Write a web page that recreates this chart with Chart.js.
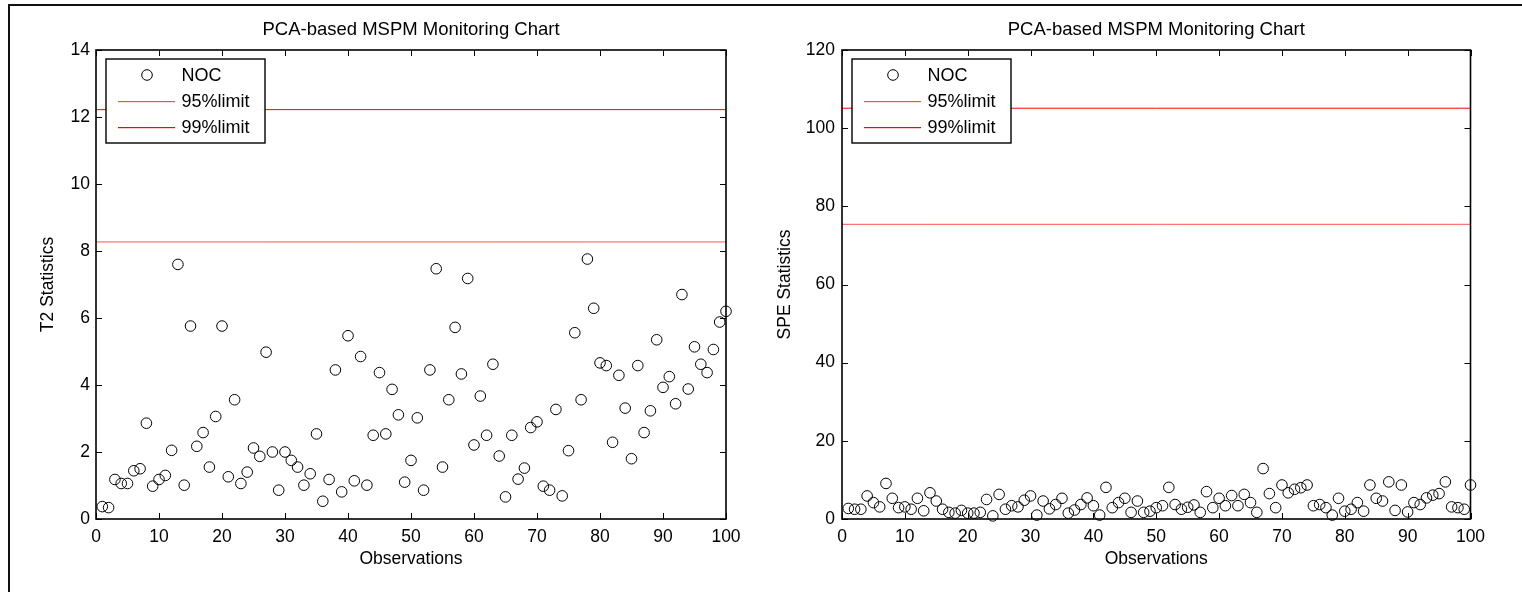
<!DOCTYPE html>
<html>
<head>
<meta charset="utf-8">
<title>PCA-based MSPM Monitoring Chart</title>
<script src="https://cdn.jsdelivr.net/npm/chart.js@4.4.1/dist/chart.umd.min.js"></script>
<style>
  html, body { margin: 0; padding: 0; background: #fff; }
  body { position: relative; width: 1522px; height: 592px; overflow: hidden; }
  #frame { position: absolute; left: 8px; top: 4px; width: 1530px; height: 600px;
           border-top: 2px solid #111; border-left: 2px solid #111; }
  canvas { position: absolute; top: 0; }
  #t2Chart { left: 0; }
  #speChart { left: 761px; }
</style>
</head>
<body>
<div id="frame"></div>
<canvas id="t2Chart" width="761" height="592"></canvas>
<canvas id="speChart" width="761" height="592"></canvas>

<script>
// ── Data ─────────────────────────────────────────────────
const chartTitle = 'PCA-based MSPM Monitoring Chart';
const legendLabels = ['NOC', '95%limit', '99%limit'];

const observations = [
    1, 2, 3, 4, 5, 6, 7, 8, 9, 10, 11, 12, 13, 14, 15, 16, 17, 18, 19, 20,
    21, 22, 23, 24, 25, 26, 27, 28, 29, 30, 31, 32, 33, 34, 35, 36, 37, 38, 39, 40,
    41, 42, 43, 44, 45, 46, 47, 48, 49, 50, 51, 52, 53, 54, 55, 56, 57, 58, 59, 60,
    61, 62, 63, 64, 65, 66, 67, 68, 69, 70, 71, 72, 73, 74, 75, 76, 77, 78, 79, 80,
    81, 82, 83, 84, 85, 86, 87, 88, 89, 90, 91, 92, 93, 94, 95, 96, 97, 98, 99, 100
];

const t2Values = [
    0.37, 0.34, 1.18, 1.06, 1.06, 1.44, 1.50, 2.86, 0.98, 1.18,
    1.30, 2.05, 7.60, 1.01, 5.76, 2.17, 2.58, 1.55, 3.06, 5.76,
    1.26, 3.56, 1.06, 1.40, 2.12, 1.87, 4.98, 2.00, 0.86, 2.00,
    1.75, 1.55, 1.01, 1.35, 2.54, 0.53, 1.18, 4.45, 0.81, 5.47,
    1.14, 4.85, 1.01, 2.50, 4.37, 2.54, 3.87, 3.11, 1.10, 1.75,
    3.02, 0.86, 4.45, 7.47, 1.55, 3.56, 5.72, 4.33, 7.18, 2.21,
    3.67, 2.50, 4.62, 1.88, 0.66, 2.50, 1.19, 1.52, 2.73, 2.90,
    0.98, 0.86, 3.27, 0.69, 2.04, 5.56, 3.56, 7.76, 6.29, 4.66,
    4.58, 2.29, 4.29, 3.31, 1.80, 4.58, 2.58, 3.23, 5.35, 3.93,
    4.25, 3.44, 6.70, 3.88, 5.14, 4.62, 4.37, 5.06, 5.88, 6.20
];

const speValues = [
    2.7, 2.5, 2.5, 5.9, 4.2, 3.1, 9.1, 5.3, 2.9, 3.1,
    2.5, 5.3, 2.1, 6.7, 4.6, 2.5, 1.7, 1.5, 2.2, 1.5,
    1.5, 1.7, 5.0, 0.8, 6.3, 2.5, 3.4, 3.1, 4.8, 5.9,
    1.0, 4.6, 2.6, 3.7, 5.3, 1.5, 2.3, 3.7, 5.4, 3.4,
    1.0, 8.1, 2.9, 4.2, 5.3, 1.7, 4.6, 1.7, 2.0, 2.9,
    3.4, 8.1, 3.7, 2.5, 3.0, 3.6, 1.7, 7.0, 2.9, 5.3,
    3.4, 6.0, 3.4, 6.3, 4.2, 1.7, 12.9, 6.5, 2.9, 8.7,
    6.7, 7.6, 8.0, 8.7, 3.4, 3.7, 2.9, 1.0, 5.3, 2.0,
    2.5, 4.2, 2.0, 8.7, 5.3, 4.6, 9.5, 2.2, 8.7, 1.8,
    4.2, 3.7, 5.4, 6.1, 6.5, 9.5, 3.1, 2.9, 2.5, 8.7
];

const t2Limits  = [8.27, 12.22];   // 95%, 99%
const speLimits = [75.4, 105.1];   // 95%, 99%

const xTicks = { min: 0, max: 100, step: 10 };
const t2Axis  = { min: 0, max: 14,  step: 2,  title: 'T2 Statistics' };
const speAxis = { min: 0, max: 120, step: 20, title: 'SPE Statistics' };

// ── Styling ──────────────────────────────────────────────
const FONT = '"Liberation Sans", Arial, Helvetica, sans-serif';
const TEXT = 17.5;
const limitColors = ['#ff5050', '#ff0000'];

// ── MATLAB-like axes box, inward ticks, boxed legend ─────
const matlabAxes = {
    id: 'matlabAxes',
    afterDatasetsDraw(chart) {
        const { ctx, chartArea: a, scales: { x, y } } = chart;
        ctx.save();
        ctx.strokeStyle = '#000';
        ctx.lineWidth = 1;
        ctx.beginPath();
        x.ticks.forEach(t => {
            const px = Math.round(x.getPixelForValue(t.value)) + 0.5;
            ctx.moveTo(px, a.bottom); ctx.lineTo(px, a.bottom - 6);
            ctx.moveTo(px, a.top);    ctx.lineTo(px, a.top + 6);
        });
        y.ticks.forEach(t => {
            const py = Math.round(y.getPixelForValue(t.value)) + 0.5;
            ctx.moveTo(a.left, py);  ctx.lineTo(a.left + 6, py);
            ctx.moveTo(a.right, py); ctx.lineTo(a.right - 6, py);
        });
        ctx.stroke();
        ctx.lineWidth = 1.6;
        ctx.strokeRect(a.left, a.top, a.width, a.height);
        ctx.restore();
    },
    afterDraw(chart) {
        const { ctx, chartArea: a } = chart;
        const bx = Math.round(a.left + 10), by = Math.round(a.top + 9), bw = 159, bh = 84;
        ctx.save();
        ctx.fillStyle = '#fff';
        ctx.fillRect(bx, by, bw, bh);
        ctx.strokeStyle = '#000';
        ctx.lineWidth = 1.4;
        ctx.strokeRect(bx, by, bw, bh);
        legendLabels.forEach((label, i) => {
            const ry = Math.round(by + 15.5 + i * 26.2);
            if (i === 0) {
                ctx.beginPath();
                ctx.lineWidth = 1;
                ctx.strokeStyle = '#000';
                ctx.arc(bx + 41, ry, 5.3, 0, Math.PI * 2);
                ctx.stroke();
            } else {
                ctx.fillStyle = limitColors[i - 1];
                ctx.fillRect(bx + 12, ry, 57, 1.2);
            }
            ctx.fillStyle = '#000';
            ctx.font = `18px ${FONT}`;
            ctx.textBaseline = 'middle';
            ctx.textAlign = 'left';
            ctx.fillText(label, bx + 75.5, ry + 1.5);
        });
        ctx.restore();
    }
};

function buildChart(canvasId, values, limits, axis, pad) {
    const points = observations.map((o, i) => ({ x: o, y: values[i] }));
    const limitLine = v => [{ x: xTicks.min, y: v }, { x: xTicks.max, y: v }];

    return new Chart(document.getElementById(canvasId), {
        type: 'scatter',
        data: {
            datasets: [
                {
                    label: legendLabels[0],
                    data: points,
                    clip: false,
                    pointRadius: 5.3,
                    pointBorderWidth: 1,
                    pointBorderColor: '#000',
                    pointBackgroundColor: 'rgba(0,0,0,0)',
                    showLine: false
                },
                {
                    label: legendLabels[1],
                    data: limitLine(limits[0]),
                    showLine: true,
                    borderColor: limitColors[0],
                    borderWidth: 1,
                    pointRadius: 0
                },
                {
                    label: legendLabels[2],
                    data: limitLine(limits[1]),
                    showLine: true,
                    borderColor: limitColors[1],
                    borderWidth: 1,
                    pointRadius: 0
                }
            ]
        },
        options: {
            responsive: false,
            animation: false,
            events: [],
            layout: { padding: { left: pad.left, right: pad.right, top: 0, bottom: 22.5 } },
            plugins: {
                legend: { display: false },
                tooltip: { enabled: false },
                title: {
                    display: true,
                    text: chartTitle,
                    fullSize: false,
                    color: '#000',
                    font: { family: FONT, size: 18.5, weight: 'normal' },
                    padding: { top: 18.5, bottom: 9.3 }
                }
            },
            scales: {
                x: {
                    type: 'linear',
                    min: xTicks.min, max: xTicks.max,
                    grid: { display: false, drawTicks: false },
                    border: { display: false },
                    ticks: { stepSize: xTicks.step, color: '#000', padding: 8,
                             maxRotation: 0, font: { family: FONT, size: TEXT } },
                    title: { display: true, text: 'Observations', color: '#000',
                             padding: 0, font: { family: FONT, size: TEXT } },
                    afterFit(s) { s.height = 50.5; s.paddingLeft = 0; s.paddingRight = 0; }
                },
                y: {
                    min: axis.min, max: axis.max,
                    grid: { display: false, drawTicks: false },
                    border: { display: false },
                    ticks: { stepSize: axis.step, color: '#000', padding: pad.tick,
                             font: { family: FONT, size: TEXT } },
                    title: { display: true, text: axis.title, color: '#000',
                             padding: 0, font: { family: FONT, size: TEXT } },
                    afterFit(s) { s.width = pad.axis; s.paddingTop = 0; s.paddingBottom = 0; }
                }
            }
        },
        plugins: [matlabAxes]
    });
}

buildChart('t2Chart',  t2Values,  t2Limits,  t2Axis,  { left: 37.5, right: 35,   axis: 58.5, tick: 6 });
buildChart('speChart', speValues, speLimits, speAxis, { left: 13.5, right: 51.5, axis: 67.5, tick: 7 });
</script>
</body>
</html>
